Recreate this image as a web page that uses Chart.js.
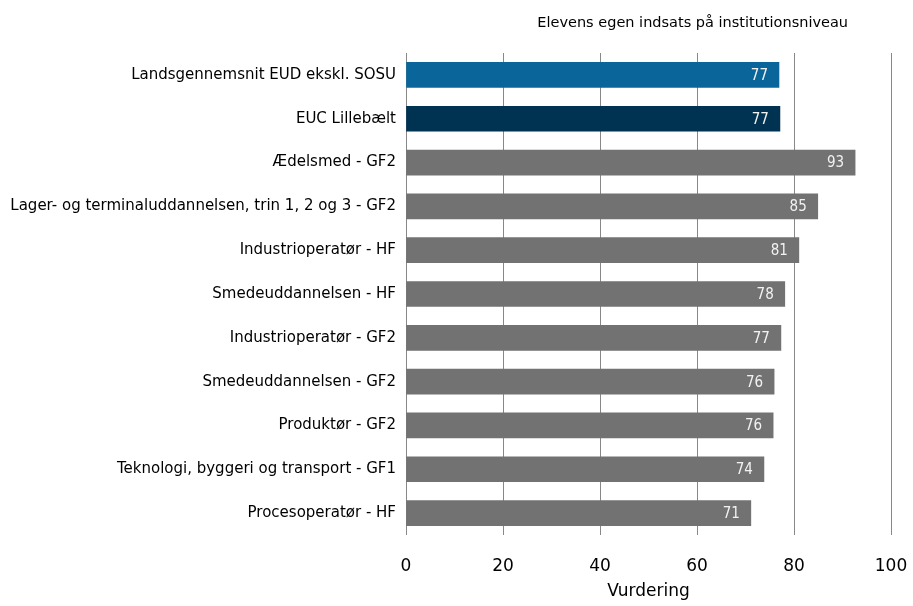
<!DOCTYPE html>
<html lang="da">
  <head>
    <meta charset="UTF-8" />
    <title>Elevens egen indsats</title>
    <script src="https://cdn.jsdelivr.net/npm/chart.js@4"></script>
    <style>
      body { margin: 0; background: #fff; }
    </style>
  </head>
  <body>
    <canvas id="myChart" width="913" height="606"></canvas>
    <script>
      // values
      const labels = [
        'Landsgennemsnit EUD ekskl. SOSU',
        'EUC Lillebælt',
        'Ædelsmed - GF2',
        'Lager- og terminaluddannelsen, trin 1, 2 og 3 - GF2',
        'Industrioperatør - HF',
        'Smedeuddannelsen - HF',
        'Industrioperatør - GF2',
        'Smedeuddannelsen - GF2',
        'Produktør - GF2',
        'Teknologi, byggeri og transport - GF1',
        'Procesoperatør - HF'
      ];
      const values = [76.9, 77.1, 92.6, 84.9, 81.0, 78.1, 77.3, 75.9, 75.7, 73.8, 71.1];
      const barColors = ['#0a669a', '#003352', '#727272', '#727272', '#727272', '#727272',
                         '#727272', '#727272', '#727272', '#727272', '#727272'];
      const xTicks = [0, 20, 40, 60, 80, 100];
      const chartTitle = 'Elevens egen indsats på institutionsniveau';
      const axisTitle = 'Vurdering';

      const sans = '"DejaVu Sans", sans-serif';
      const narrow = '"DejaVu Sans Condensed", "DejaVu Sans", sans-serif';

      // draws the white value labels inside the bar ends, and the small title
      const valueLabels = {
        id: 'valueLabels',
        afterDatasetsDraw(chart) {
          const ctx = chart.ctx;
          const meta = chart.getDatasetMeta(0);
          ctx.save();
          ctx.fillStyle = '#f2f2f2';
          ctx.font = '15px ' + narrow;
          ctx.textAlign = 'right';
          ctx.textBaseline = 'middle';
          meta.data.forEach((bar, i) => {
            ctx.fillText(Math.round(values[i]), bar.x - 11, bar.y + 1);
          });
          ctx.fillStyle = '#000';
          ctx.font = '14.5px ' + sans;
          ctx.fillText(chartTitle, 848, 23);
          ctx.restore();
        }
      };

      const ctx = document.getElementById('myChart').getContext('2d');
      const myChart = new Chart(ctx, {
        type: 'bar',
        data: {
          labels: labels,
          datasets: [
            {
              data: values,
              backgroundColor: barColors,
              borderWidth: 0,
              barThickness: 25
            }
          ]
        },
        options: {
          indexAxis: 'y',
          responsive: false,
          animation: false,
          layout: { padding: { top: 53, right: 22, left: 0, bottom: 0 } },
          plugins: {
            legend: { display: false },
            tooltip: { enabled: false }
          },
          scales: {
            x: {
              min: 0,
              max: 100,
              afterBuildTicks(axis) {
                axis.ticks = xTicks.map(v => ({ value: v }));
              },
              afterFit(axis) {
                axis.height = 71;
                axis.paddingLeft = 0;
                axis.paddingRight = 0;
              },
              border: { display: false },
              grid: {
                color: '#888',
                lineWidth: 1,
                drawTicks: false
              },
              ticks: {
                color: '#000',
                padding: 21,
                font: { family: sans, size: 17 }
              },
              title: {
                display: true,
                text: axisTitle,
                color: '#000',
                padding: { top: 0, bottom: 4 },
                font: { family: sans, size: 17 }
              }
            },
            y: {
              afterFit(axis) {
                axis.width = 406;
              },
              border: { display: false },
              grid: { display: false, drawTicks: false },
              ticks: {
                color: '#000',
                padding: 10,
                font: { family: sans, size: 15 }
              }
            }
          }
        },
        plugins: [valueLabels]
      });
    </script>
  </body>
</html>
